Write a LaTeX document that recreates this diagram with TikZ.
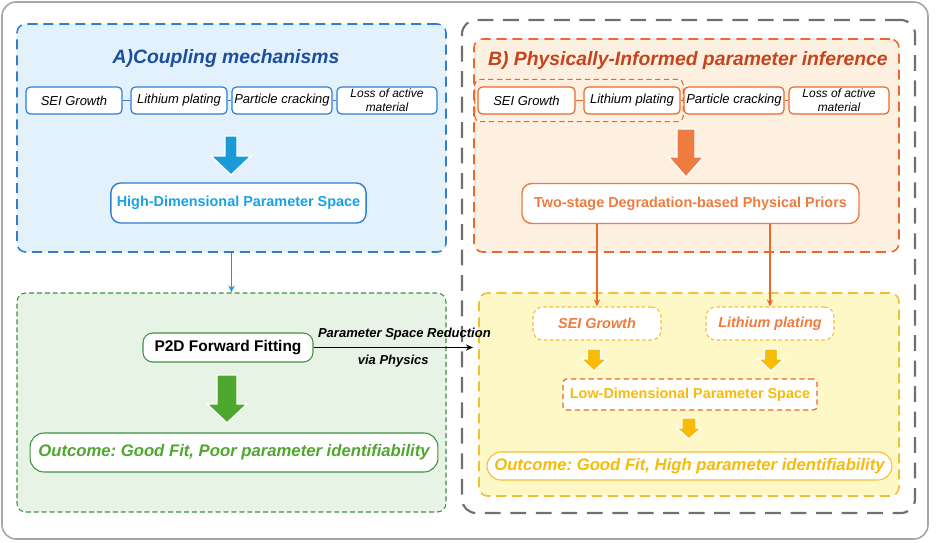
\documentclass[tikz,border=0pt]{standalone}
\usepackage{fontspec}
\setmainfont{Liberation Sans}
\usetikzlibrary{arrows.meta,positioning,fit}
\frenchspacing
\definecolor{blueD}{HTML}{2E7ED2}
\definecolor{blueF}{HTML}{E3F1FC}
\definecolor{blueT}{HTML}{1C4E9E}
\definecolor{blueA}{HTML}{1A9AD6}
\definecolor{blueH}{HTML}{19A1E6}
\definecolor{greenD}{HTML}{3F8F3F}
\definecolor{greenF}{HTML}{E7F4E5}
\definecolor{greenA}{HTML}{4EA72E}
\definecolor{orangeD}{HTML}{E9692C}
\definecolor{orangeF}{HTML}{FEF0E0}
\definecolor{orangeT}{HTML}{C5441C}
\definecolor{orangeA}{HTML}{EE7B3F}
\definecolor{yellowD}{HTML}{F6BD34}
\definecolor{yellowF}{HTML}{FEF7C6}
\definecolor{yellowA}{HTML}{F8BB06}
\definecolor{grayD}{HTML}{707070}
\definecolor{grayO}{HTML}{A6A6A6}
\newcommand{\blockarr}[7]{%
  \filldraw[fill=#1, draw=white, line width=0.8pt]
    (#2-#6,#3) -- (#2+#6,#3) -- (#2+#6,#4) -- (#2+#7,#4) -- (#2,#5)
    -- (#2-#7,#4) -- (#2-#6,#4) -- cycle;}

\begin{document}
\begin{tikzpicture}[
  x=0.02cm, y=-0.02cm,
  panel/.style={rounded corners=5pt, line width=0.9pt, dash pattern=on 5.7pt off 3.4pt, inner sep=0pt},
  mech/.style={draw, fill=white, rounded corners=2.5pt, line width=0.7pt, align=center, inner sep=1pt,
    minimum height=0.54cm, font=\fontsize{7.4}{8.5}\selectfont\itshape},
  small/.style={font=\fontsize{6.8}{7.8}\selectfont\itshape},
  wide/.style={draw, fill=white, rounded corners=5.5pt, line width=0.8pt, minimum height=0.8cm,
    font=\fontsize{8.2}{10}\selectfont\bfseries},
  outc/.style={draw, fill=white, rounded corners=8pt, line width=0.6pt, inner sep=1pt,
    font=\fontsize{9.5}{11}\selectfont\bfseries\itshape},
  lbl/.style={inner sep=1pt, font=\fontsize{7.4}{9}\selectfont\bfseries\itshape},
  link/.style={line width=0.6pt},
  arr/.style={-{Stealth[length=4pt,width=3.5pt]}, line width=0.7pt}
]
  \useasboundingbox (0,0) rectangle (948,542);
  \draw[grayO, line width=0.9pt, rounded corners=8pt] (2,2) rectangle (928,539);
  \node[fit={(462,20) (915,513)}, draw=grayD, line width=1.2pt, dash pattern=on 9pt off 5.5pt,
    rounded corners=8pt, inner sep=0pt] (pR) {};
  \node[panel, fit={(17,24) (446,252)}, draw=blueD, fill=blueF] (pA) {};
  \node[panel, fit={(17,293) (446,512)}, draw=greenD, fill=greenF, line width=0.6pt,
    dash pattern=on 2.8pt off 1.7pt] (pG) {};
  \node[panel, fit={(474,39) (899,252)}, draw=orangeD, fill=orangeF] (pB) {};
  \node[panel, fit={(479,293) (899,496)}, draw=yellowD, fill=yellowF] (pY) {};

  \node[font=\fontsize{11}{13}\selectfont\bfseries\itshape, text=blueT] (titleA) at (226,58) {A)Coupling mechanisms};
  \node[mech, draw=blueD, minimum width=1.92cm] (seiA) at (74,100.5) {SEI Growth};
  \node[mech, draw=blueD, minimum width=1.92cm] (lipA) at (179,100.5) {Lithium plating};
  \node[mech, draw=blueD, minimum width=2cm] (pcA) at (282,100.5) {Particle cracking};
  \node[mech, draw=blueD, minimum width=2cm, small] (lamA) at (387,100.5) {Loss of active\\material};
  \draw[link, blueD] (seiA) -- (lipA);
  \draw[link, blueD] (lipA) -- (pcA);
  \draw[link, blueD] (pcA) -- (lamA);
  \blockarr{blueA}{231}{136}{156}{175}{6}{20}
  \node[wide, draw=blueD, text=blueH, minimum width=5.1cm] (hd) at (238.5,203) {High-Dimensional Parameter Space};

  \node[font=\fontsize{11}{13}\selectfont\bfseries\itshape, text=orangeT] (titleB) at (688,60) {B) Physically-Informed parameter inference};
  \node[mech, draw=orangeD, minimum width=1.94cm] (seiB) at (526.5,100.5) {SEI Growth};
  \node[mech, draw=orangeD, minimum width=1.92cm] (lipB) at (632,100.5) {Lithium plating};
  \node[mech, draw=orangeD, minimum width=2cm] (pcB) at (734,100.5) {Particle cracking};
  \node[mech, draw=orangeD, minimum width=2cm, small] (lamB) at (839,100.5) {Loss of active\\material};
  \draw[link, orangeD] (seiB) -- (lipB);
  \draw[link, orangeD] (lipB) -- (pcB);
  \draw[link, orangeD] (pcB) -- (lamB);
  \node[fit=(seiB) (lipB), draw=orangeD, line width=0.6pt, dash pattern=on 3pt off 2pt,
    rounded corners=3pt, inner xsep=1.5pt, inner ysep=4pt] (grp) {};
  \blockarr{orangeA}{686}{129}{157}{177}{9}{17.5}
  \node[wide, draw=orangeA, text=orangeA, minimum width=6.74cm] (ts) at (690.5,203.5) {Two-stage Degradation-based Physical Priors};

  \node[wide, draw=greenD, text=black, minimum width=3.4cm, minimum height=0.58cm,
    font=\fontsize{8.8}{10}\selectfont\bfseries, line width=0.6pt] (p2d) at (228,347.5) {P2D Forward Fitting};
  \blockarr{greenA}{227}{375}{404}{423}{10}{20}
  \node[outc, draw=greenD, text=greenA, minimum width=8.16cm, minimum height=0.78cm] (outG) at (234,452.5)
    {Outcome: Good Fit, Poor parameter identifiability};

  \node[wide, draw=yellowD, text=orangeA, minimum width=2.56cm, minimum height=0.66cm, line width=0.6pt,
    dash pattern=on 2pt off 1.5pt, font=\fontsize{8.2}{10}\selectfont\bfseries\itshape] (seiY) at (597,323.5) {SEI Growth};
  \node[wide, draw=yellowD, text=orangeA, minimum width=2.56cm, minimum height=0.66cm, line width=0.6pt,
    dash pattern=on 2pt off 1.5pt, font=\fontsize{8.2}{10}\selectfont\bfseries\itshape] (lipY) at (770,323.5) {Lithium plating};
  \blockarr{yellowA}{594}{349}{359}{371}{6.5}{13}
  \blockarr{yellowA}{771}{349}{359}{371}{6.5}{13}
  \node[wide, draw=orangeD, text=yellowA, minimum width=5.08cm, minimum height=0.62cm, rounded corners=2pt,
    line width=0.7pt, dash pattern=on 3pt off 2pt] (low) at (690,394.5) {Low-Dimensional Parameter Space};
  \blockarr{yellowA}{689}{418}{428}{439}{7}{12.5}
  \node[outc, draw=yellowD, text=yellowA, minimum width=8.1cm, minimum height=0.56cm] (outY) at (689.5,466)
    {Outcome: Good Fit, High parameter identifiability};

  \draw[arr, blueA, line width=0.9pt] (pA.south) -- (pG.north);
  \draw[arr, orangeD] (seiY.north |- ts.south) -- (seiY.north);
  \draw[arr, orangeD] (lipY.north |- ts.south) -- (lipY.north);
  \coordinate (redEnd) at (473,347.5);
  \draw[arr, black] (p2d) -- (redEnd)
    node[lbl, pos=0.57, above=3pt] {Parameter Space Reduction}
    node[lbl, pos=0.5, below=3pt] {via Physics};
\end{tikzpicture}
\end{document}
